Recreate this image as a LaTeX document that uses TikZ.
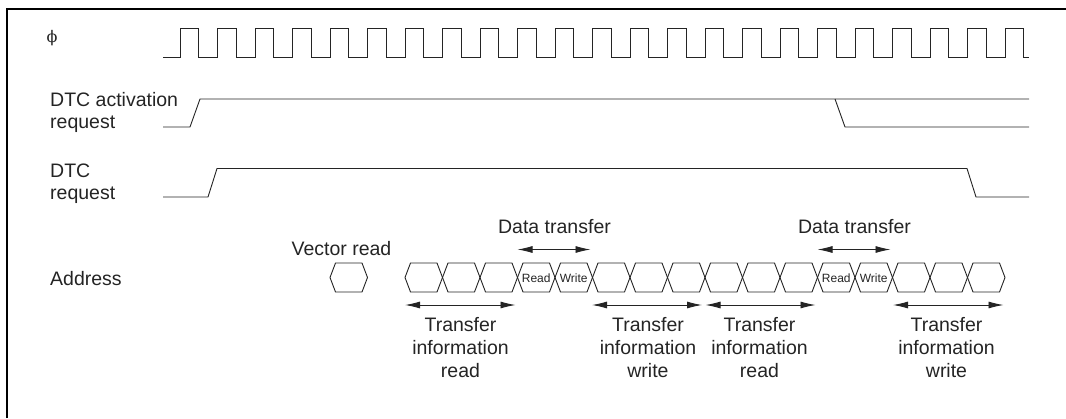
\documentclass[tikz,border=0pt]{standalone}
\usepackage{fontspec}
\setmainfont{Liberation Sans}
\newfontfamily\phifont{DejaVu Serif}
\usetikzlibrary{arrows.meta}
\definecolor{ink}{rgb}{0.14,0.14,0.14}
\begin{document}
\begin{tikzpicture}[x=1pt,y=-1pt,
  sig/.style={draw=ink,line width=0.9pt},
  frameline/.style={draw=black,line width=2.4pt},
  lbl/.style={inner sep=0pt,text=ink,font=\fontsize{19.5}{23}\selectfont},
  small/.style={inner sep=0pt,text=ink,font=\fontsize{12}{14}\selectfont},
  dimarrow/.style={draw=ink,line width=0.9pt,{Latex[length=15pt,width=7pt]}-{Latex[length=15pt,width=7pt]}}]
\useasboundingbox (0,0) rectangle (1066,418);
% frame
\draw[frameline] (7,418) -- (7,9) -- (1066,9);
% labels
\node[inner sep=0pt,text=ink,font=\phifont\fontsize{16}{18}\selectfont,anchor=center] (phi) at (52,38) {ϕ};
\node[lbl,anchor=base west] (act1) at (50,106) {DTC activation};
\node[lbl,anchor=base west] (act2) at (50,128) {request};
\node[lbl,anchor=base west] (req1) at (50,177.3) {DTC};
\node[lbl,anchor=base west] (req2) at (50,199.3) {request};
\node[lbl,anchor=base west] (addr) at (50,285) {Address};
% clock
\draw[sig] (163,57) \foreach \k in {0,...,22} { -- ({180+37.5*\k},57) -- ({180+37.5*\k},28) -- ({198.5+37.5*\k},28) -- ({198.5+37.5*\k},57) } -- (1029,57);
% DTC activation request
\draw[sig] (163,127) -- (190,127) -- (200,99) -- (1029,99);
\draw[sig] (835,99) -- (845,127) -- (1029,127);
% DTC request
\draw[sig] (163,197) -- (208,197) -- (217,168.5) -- (967,168.5) -- (976,197) -- (1029,197);
% address hexagons
\def\hexcell#1#2{\draw[sig] (#1,277.5) -- ({#1+5.5},263) -- ({#2-5.5},263) -- (#2,277.5) -- ({#2-5.5},292) -- ({#1+5.5},292) -- cycle;}
\hexcell{330}{367.5}
\foreach \k in {0,...,15} {\hexcell{405+37.5*\k}{442.5+37.5*\k}}
\node[small] (rd1) at (536.25,278) {Read};
\node[small] (wr1) at (573.75,278) {Write};
\node[small] (rd2) at (836.25,278) {Read};
\node[small] (wr2) at (873.75,278) {Write};
% labels above
\node[lbl,anchor=base] (vec) at (341.5,255) {Vector read};
\node[lbl,anchor=base] (dt1) at (554.5,233.3) {Data transfer};
\node[lbl,anchor=base] (dt2) at (854.5,233.3) {Data transfer};
% data transfer arrows
\coordinate (d1a) at (517.5,249.5); \coordinate (d1b) at (590.5,249.5);
\coordinate (d2a) at (817.5,249.5); \coordinate (d2b) at (890.5,249.5);
\draw[dimarrow] (d1a) -- (d1b);
\draw[dimarrow] (d2a) -- (d2b);
% transfer information arrows
\coordinate (t1a) at (405,305); \coordinate (t1b) at (515.5,305);
\coordinate (t2a) at (592,305); \coordinate (t2b) at (702,305);
\coordinate (t3a) at (705.5,305); \coordinate (t3b) at (815.5,305);
\coordinate (t4a) at (893,305); \coordinate (t4b) at (1003.5,305);
\draw[dimarrow] (t1a) -- (t1b);
\draw[dimarrow] (t2a) -- (t2b);
\draw[dimarrow] (t3a) -- (t3b);
\draw[dimarrow] (t4a) -- (t4b);
\node[lbl,anchor=north,align=center] (ti1) at (460.5,317.5) {Transfer\\information\\read};
\node[lbl,anchor=north,align=center] (ti2) at (648,317.5) {Transfer\\information\\write};
\node[lbl,anchor=north,align=center] (ti3) at (759.5,317.5) {Transfer\\information\\read};
\node[lbl,anchor=north,align=center] (ti4) at (946.5,317.5) {Transfer\\information\\write};
\end{tikzpicture}
\end{document}
